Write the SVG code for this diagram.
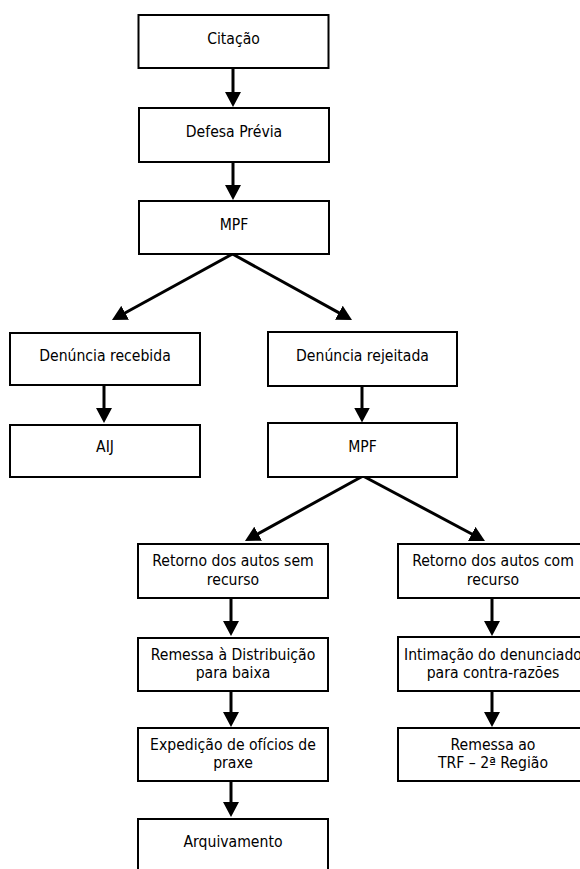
<svg xmlns="http://www.w3.org/2000/svg" width="580" height="869" viewBox="0 0 580 869">
  <style>
    .box { fill: #ffffff; stroke: #000000; stroke-width: 2; }
    .lbl { font-family: 'DejaVu Sans Condensed', 'DejaVu Sans', sans-serif; font-stretch: condensed; font-size: 15.6px; fill: #000000; text-anchor: middle; }
    .edge { stroke: #000000; stroke-width: 3; fill: none; marker-end: url(#head); }
  </style>
  <defs>
    <marker id="head" markerUnits="userSpaceOnUse" markerWidth="16" markerHeight="16" viewBox="0 0 16 16" refX="7" refY="8" orient="auto">
      <path d="M0,0 L15,8 L0,16 z" fill="#000000"/>
    </marker>
  </defs>
  <rect width="580" height="869" fill="#ffffff"/>

  <!-- connectors -->
  <g id="connectors">
    <line class="edge" x1="233" y1="68" x2="233" y2="99"/>
    <line class="edge" x1="233" y1="162" x2="233" y2="192"/>
    <line class="edge" x1="232.5" y1="254" x2="119" y2="316.2"/>
    <line class="edge" x1="232.5" y1="254" x2="345" y2="316.1"/>
    <line class="edge" x1="104" y1="385" x2="104" y2="415"/>
    <line class="edge" x1="362" y1="386" x2="362" y2="414.5"/>
    <line class="edge" x1="363" y1="476" x2="252" y2="537.1"/>
    <line class="edge" x1="363" y1="476" x2="477.9" y2="537.2"/>
    <line class="edge" x1="231" y1="598" x2="231" y2="628"/>
    <line class="edge" x1="231" y1="691" x2="231" y2="719"/>
    <line class="edge" x1="231" y1="781" x2="231" y2="809"/>
    <line class="edge" x1="492" y1="598" x2="492" y2="628"/>
    <line class="edge" x1="492" y1="691" x2="492" y2="719"/>
  </g>

  <g id="citacao">
    <rect class="box" x="138.5" y="15" width="190" height="53"/>
    <text class="lbl" x="233.5" y="44">Citação</text>
  </g>
  <g id="defesa-previa">
    <rect class="box" x="139" y="108" width="190" height="54"/>
    <text class="lbl" x="234" y="137">Defesa Prévia</text>
  </g>
  <g id="mpf-1">
    <rect class="box" x="139" y="201" width="190" height="53"/>
    <text class="lbl" x="234" y="230">MPF</text>
  </g>
  <g id="denuncia-recebida">
    <rect class="box" x="10" y="333" width="190" height="52"/>
    <text class="lbl" x="105" y="361">Denúncia recebida</text>
  </g>
  <g id="denuncia-rejeitada">
    <rect class="box" x="268" y="332" width="189" height="54"/>
    <text class="lbl" x="362.5" y="361">Denúncia rejeitada</text>
  </g>
  <g id="aij">
    <rect class="box" x="10" y="425" width="190" height="52"/>
    <text class="lbl" x="105" y="452">AIJ</text>
  </g>
  <g id="mpf-2">
    <rect class="box" x="268" y="423" width="189" height="54"/>
    <text class="lbl" x="362.5" y="452">MPF</text>
  </g>
  <g id="retorno-sem-recurso">
    <rect class="box" x="138" y="544" width="190" height="54"/>
    <text class="lbl" x="233" y="566">Retorno dos autos sem</text>
    <text class="lbl" x="233" y="585">recurso</text>
  </g>
  <g id="retorno-com-recurso">
    <rect class="box" x="398" y="544" width="190" height="54"/>
    <text class="lbl" x="493" y="566">Retorno dos autos com</text>
    <text class="lbl" x="493" y="585">recurso</text>
  </g>
  <g id="remessa-distribuicao">
    <rect class="box" x="138" y="638" width="190" height="53"/>
    <text class="lbl" x="233" y="660">Remessa à Distribuição</text>
    <text class="lbl" x="233" y="678">para baixa</text>
  </g>
  <g id="intimacao">
    <rect class="box" x="398" y="637" width="190" height="54"/>
    <text class="lbl" x="493" y="660">Intimação do denunciado</text>
    <text class="lbl" x="493" y="678">para contra-razões</text>
  </g>
  <g id="expedicao">
    <rect class="box" x="138" y="728" width="190" height="53"/>
    <text class="lbl" x="233" y="750">Expedição de ofícios de</text>
    <text class="lbl" x="233" y="768">praxe</text>
  </g>
  <g id="remessa-trf">
    <rect class="box" x="398" y="728" width="190" height="53"/>
    <text class="lbl" x="493" y="750">Remessa ao</text>
    <text class="lbl" x="493" y="768">TRF – 2ª Região</text>
  </g>
  <g id="arquivamento">
    <rect class="box" x="138" y="819" width="190" height="53"/>
    <text class="lbl" x="233" y="847">Arquivamento</text>
  </g>
</svg>
